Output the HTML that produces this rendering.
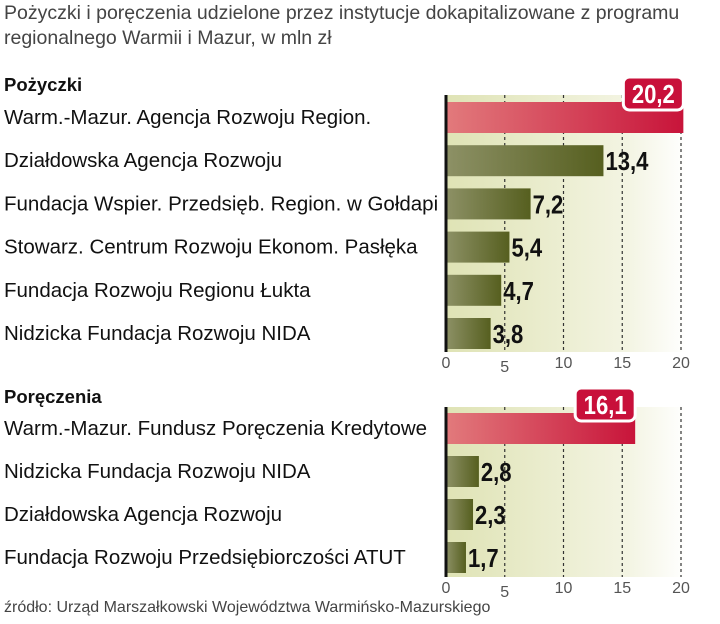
<!DOCTYPE html>
<html><head><meta charset="utf-8"><style>
body{margin:0;width:720px;height:624px;background:#fff;font-family:"Liberation Sans",sans-serif;overflow:hidden}
svg{position:absolute;left:0;top:0}
</style></head><body>
<svg width="720" height="624" id="c">
<defs>
<linearGradient id="bg" x1="0" x2="1"><stop offset="0" stop-color="#dfe3b5"/><stop offset="0.75" stop-color="#f3f4e2"/><stop offset="1" stop-color="#fff"/></linearGradient>
<linearGradient id="red" x1="0" x2="1"><stop offset="0" stop-color="#e27a7c"/><stop offset="1" stop-color="#c8143a"/></linearGradient>
<linearGradient id="ol" x1="0" x2="1"><stop offset="0" stop-color="#8d9166"/><stop offset="1" stop-color="#565f1f"/></linearGradient>
</defs>
<text x="4" y="19" font-size="19.5" fill="#444">Pożyczki i poręczenia udzielone przez instytucje dokapitalizowane z programu</text>
<text x="4" y="44" font-size="19.5" fill="#444">regionalnego Warmii i Mazur, w mln zł</text>
<text x="4" y="612" font-size="16" fill="#444">źródło: Urząd Marszałkowski Województwa Warmińsko-Mazurskiego</text>
</svg>
<script>
const loanCats=["Warm.-Mazur. Agencja Rozwoju Region.","Działdowska Agencja Rozwoju","Fundacja Wspier. Przedsięb. Region. w Gołdapi","Stowarz. Centrum Rozwoju Ekonom. Pasłęka","Fundacja Rozwoju Regionu Łukta","Nidzicka Fundacja Rozwoju NIDA"];
const loanVals=[20.2,13.4,7.2,5.4,4.7,3.8];
const guarCats=["Warm.-Mazur. Fundusz Poręczenia Kredytowe","Nidzicka Fundacja Rozwoju NIDA","Działdowska Agencja Rozwoju","Fundacja Rozwoju Przedsiębiorczości ATUT"];
const guarVals=[16.1,2.8,2.3,1.7];
const ticks=[0,5,10,15,20];
const NS="http://www.w3.org/2000/svg";
const svg=document.getElementById('c');
const x0=446, k=11.75;
const xs=v=>x0+v*k;
function mk(t,a,p){const e=document.createElementNS(NS,t);for(const n in a)e.setAttribute(n,a[n]);(p||svg).appendChild(e);return e;}
function panel(title,titleY,cats,vals,top,bottom,firstY,pitch,name){
  const h=mk('text',{x:4,y:titleY,'font-size':18.5,'font-weight':'bold',fill:'#111'});h.textContent=title;
  
  
  const bg=mk('rect',{x:x0,y:top,width:xs(20.5)-x0,height:bottom-top,fill:'url(#bg)'});
  
  
  ticks.forEach((t,i)=>{
    if(t>0){const l=mk('line',{x1:xs(t),x2:xs(t),y1:top,y2:bottom,stroke:'#333','stroke-width':1.2,'stroke-dasharray':'3,3'});
    
    }
    const tl=mk('text',{x:xs(t),y:bottom+(t===5?20:16),'font-size':16,fill:'#555','text-anchor':'middle'});tl.textContent=ticks[i];
    
    
  });
  vals.forEach((v,i)=>{
    const cy=firstY+i*pitch;
    const lb=mk('text',{x:4,y:cy+7,'font-size':20.5,fill:'#111'});lb.textContent=cats[i];
    
    
    const b=mk('rect',{x:x0,y:cy-15,width:xs(v)-x0,height:31,fill:i===0?'url(#red)':'url(#ol)'});
    
    
    const txt=String(v).replace('.',',');
    if(i===0){
      const bx=xs(v)-30,w=60;
      const bd=mk('rect',{x:bx-w/2,y:cy-40,width:w,height:33,rx:6,fill:'#c8103a',stroke:'#fff','stroke-width':3});
      
      
      const t=mk('text',{x:bx,y:cy-14,'font-size':26,'font-weight':'bold',fill:'#fff','text-anchor':'middle',transform:`translate(${bx} 0) scale(0.85 1) translate(${-bx} 0)`});t.textContent=txt;
      
      
    } else {
      const tx=xs(v)+2;
      const t=mk('text',{x:tx,y:cy+10,'font-size':26,'font-weight':'bold',fill:'#111',transform:`translate(${tx} 0) scale(0.85 1) translate(${-tx} 0)`});t.textContent=txt;
      
      
    }
  });
  const ax=mk('line',{x1:x0,x2:x0,y1:top,y2:bottom,stroke:'#111','stroke-width':3});
  
  
}
panel('Pożyczki',91,loanCats,loanVals,95,352,117,43.2,'loans');
panel('Poręczenia',403,guarCats,guarVals,407,577,428,43,'guarantees');
</script>
</body></html>
